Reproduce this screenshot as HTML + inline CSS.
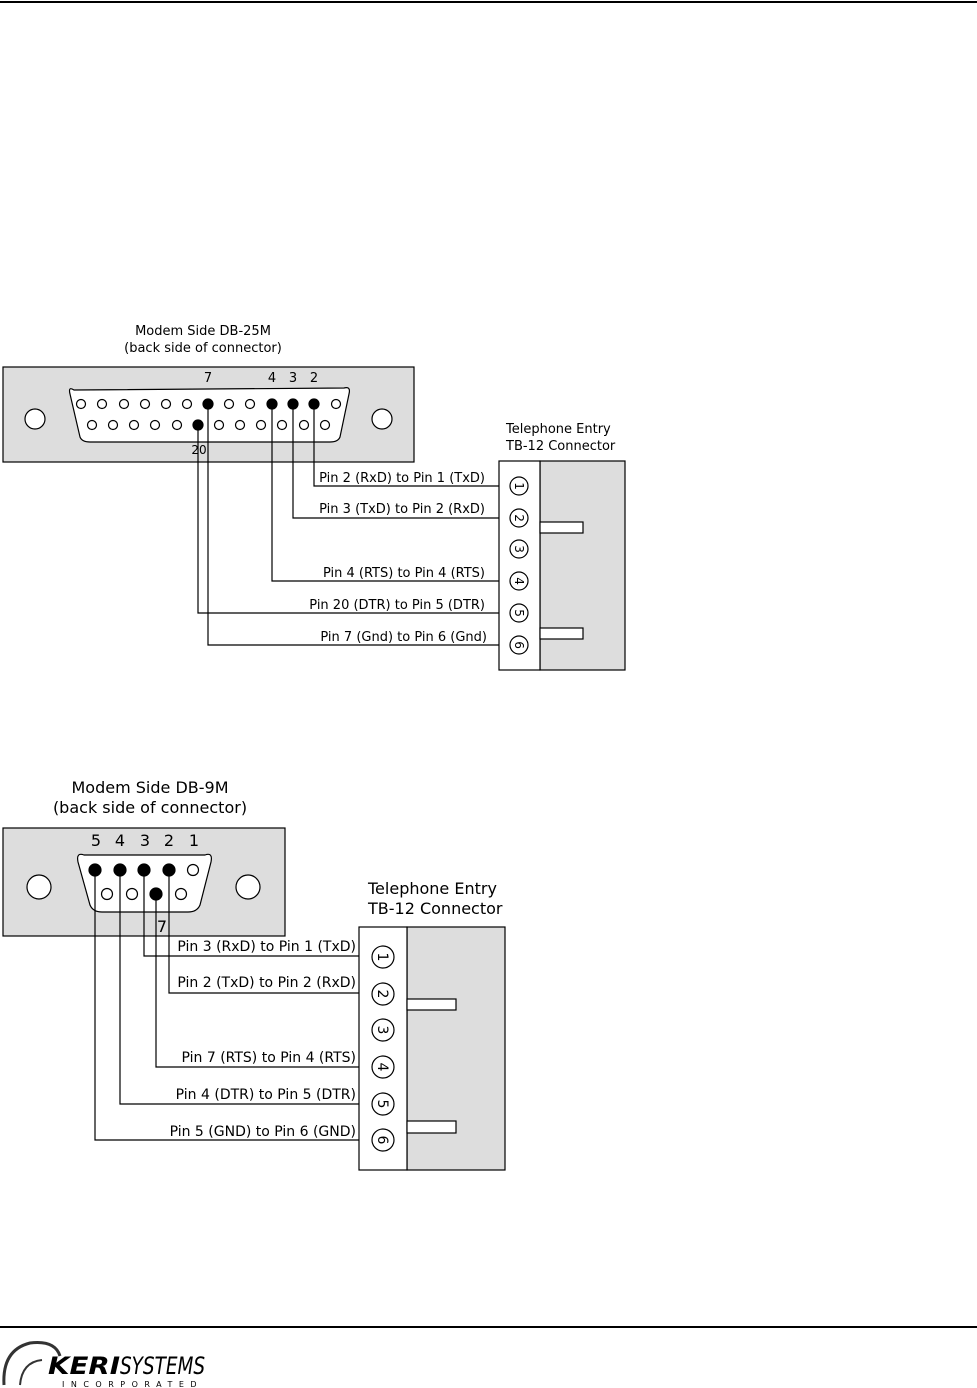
<!DOCTYPE html>
<html><head><meta charset="utf-8"><style>
html,body{margin:0;padding:0;background:#fff;width:977px;height:1388px;overflow:hidden}
svg{display:block}
text{font-family:"DejaVu Sans","Liberation Sans",sans-serif;fill:#000}
</style></head><body>
<svg width="977" height="1388" viewBox="0 0 977 1388" xmlns="http://www.w3.org/2000/svg">
<line x1="0" y1="2" x2="977" y2="2" stroke="#000" stroke-width="2"/>
<!-- DB-25 -->
<text x="203" y="335" font-size="13" text-anchor="middle">Modem Side DB-25M</text>
<text x="203" y="352" font-size="13" text-anchor="middle">(back side of connector)</text>
<rect x="3" y="367" width="411" height="95" fill="#ddd" stroke="#000" stroke-width="1.2"/>
<path d="M74,390 Q68,386 70,394 L80,437 Q82,442 90,442 L330,442 Q338,442 340,437 L349,394 Q351,386 344,388 Z" fill="#fff" stroke="#000" stroke-width="1.2"/>
<circle cx="35" cy="419" r="10" fill="#fff" stroke="#000" stroke-width="1.2"/>
<circle cx="382" cy="419" r="10" fill="#fff" stroke="#000" stroke-width="1.2"/>
<g stroke="#000" stroke-width="1.2" fill="#fff">
<circle cx="81" cy="404" r="4.5"/><circle cx="102" cy="404" r="4.5"/><circle cx="124" cy="404" r="4.5"/><circle cx="145" cy="404" r="4.5"/><circle cx="166" cy="404" r="4.5"/><circle cx="187" cy="404" r="4.5"/><circle cx="208" cy="404" r="5" fill="#000"/><circle cx="229" cy="404" r="4.5"/><circle cx="250" cy="404" r="4.5"/><circle cx="272" cy="404" r="5" fill="#000"/><circle cx="293" cy="404" r="5" fill="#000"/><circle cx="314" cy="404" r="5" fill="#000"/><circle cx="336" cy="404" r="4.5"/>
<circle cx="92" cy="425" r="4.5"/><circle cx="113" cy="425" r="4.5"/><circle cx="134" cy="425" r="4.5"/><circle cx="155" cy="425" r="4.5"/><circle cx="177" cy="425" r="4.5"/><circle cx="198" cy="425" r="5" fill="#000"/><circle cx="219" cy="425" r="4.5"/><circle cx="240" cy="425" r="4.5"/><circle cx="261" cy="425" r="4.5"/><circle cx="282" cy="425" r="4.5"/><circle cx="304" cy="425" r="4.5"/><circle cx="325" cy="425" r="4.5"/>
</g>
<g font-size="13" text-anchor="middle"><text x="208" y="382">7</text><text x="272" y="382">4</text><text x="293" y="382">3</text><text x="314" y="382">2</text><text x="199" y="454" font-size="12">20</text></g>
<g fill="none" stroke="#000" stroke-width="1.2">
<polyline points="314,404 314,486 510,486"/>
<polyline points="293,404 293,518 510,518"/>
<polyline points="272,404 272,581 510,581"/>
<polyline points="198,425 198,613 510,613"/>
<polyline points="208,404 208,645 510,645"/>
</g>
<g font-size="13" text-anchor="end"><text x="485" y="482">Pin 2 (RxD) to Pin 1 (TxD)</text><text x="485" y="513">Pin 3 (TxD) to Pin 2 (RxD)</text><text x="485" y="577">Pin 4 (RTS) to Pin 4 (RTS)</text><text x="485" y="609">Pin 20 (DTR) to Pin 5 (DTR)</text><text x="487" y="641">Pin 7 (Gnd) to Pin 6 (Gnd)</text></g>
<text x="506" y="433" font-size="13">Telephone Entry</text><text x="506" y="450" font-size="13">TB-12 Connector</text>
<rect x="540" y="461" width="85" height="209" fill="#ddd" stroke="#000" stroke-width="1.2"/>
<rect x="499" y="461" width="41" height="209" fill="#fff" stroke="#000" stroke-width="1.2"/>
<rect x="540" y="522" width="43" height="11" fill="#fff" stroke="#000" stroke-width="1.2"/>
<rect x="540" y="628" width="43" height="11" fill="#fff" stroke="#000" stroke-width="1.2"/>
<g font-size="12" text-anchor="middle">
<g transform="translate(519,486)"><circle r="9" fill="#fff" stroke="#000" stroke-width="1.2"/><text transform="rotate(90)" y="4">1</text></g>
<g transform="translate(519,518)"><circle r="9" fill="#fff" stroke="#000" stroke-width="1.2"/><text transform="rotate(90)" y="4">2</text></g>
<g transform="translate(519,549)"><circle r="9" fill="#fff" stroke="#000" stroke-width="1.2"/><text transform="rotate(90)" y="4">3</text></g>
<g transform="translate(519,581)"><circle r="9" fill="#fff" stroke="#000" stroke-width="1.2"/><text transform="rotate(90)" y="4">4</text></g>
<g transform="translate(519,613)"><circle r="9" fill="#fff" stroke="#000" stroke-width="1.2"/><text transform="rotate(90)" y="4">5</text></g>
<g transform="translate(519,645)"><circle r="9" fill="#fff" stroke="#000" stroke-width="1.2"/><text transform="rotate(90)" y="4">6</text></g>
</g>
<!-- DB-9 -->
<text x="150" y="793" font-size="16" text-anchor="middle">Modem Side DB-9M</text>
<text x="150" y="813" font-size="16" text-anchor="middle">(back side of connector)</text>
<rect x="3" y="828" width="282" height="108" fill="#ddd" stroke="#000" stroke-width="1.2"/>
<path d="M84,855 Q76,852 78,862 L90,905 Q93,912 102,912 L188,912 Q197,912 200,905 L211,862 Q213,852 205,855 Z" fill="#fff" stroke="#000" stroke-width="1.2"/>
<circle cx="39" cy="887" r="12" fill="#fff" stroke="#000" stroke-width="1.2"/>
<circle cx="248" cy="887" r="12" fill="#fff" stroke="#000" stroke-width="1.2"/>
<g stroke="#000" stroke-width="1.2" fill="#fff">
<circle cx="95" cy="870" r="6" fill="#000"/><circle cx="120" cy="870" r="6" fill="#000"/><circle cx="144" cy="870" r="6" fill="#000"/><circle cx="169" cy="870" r="6" fill="#000"/><circle cx="193" cy="870" r="5.5"/>
<circle cx="107" cy="894" r="5.5"/><circle cx="132" cy="894" r="5.5"/><circle cx="156" cy="894" r="6" fill="#000"/><circle cx="181" cy="894" r="5.5"/>
</g>
<g font-size="16" text-anchor="middle"><text x="96" y="846">5</text><text x="120" y="846">4</text><text x="145" y="846">3</text><text x="169" y="846">2</text><text x="194" y="846">1</text><text x="162" y="932">7</text></g>
<g fill="none" stroke="#000" stroke-width="1.2">
<polyline points="144,870 144,956 372,956"/>
<polyline points="169,870 169,993 372,993"/>
<polyline points="156,894 156,1067 372,1067"/>
<polyline points="120,870 120,1104 372,1104"/>
<polyline points="95,870 95,1140 372,1140"/>
</g>
<g font-size="14" text-anchor="end"><text x="356" y="951">Pin 3 (RxD) to Pin 1 (TxD)</text><text x="356" y="987">Pin 2 (TxD) to Pin 2 (RxD)</text><text x="356" y="1062">Pin 7 (RTS) to Pin 4 (RTS)</text><text x="356" y="1099">Pin 4 (DTR) to Pin 5 (DTR)</text><text x="356" y="1136">Pin 5 (GND) to Pin 6 (GND)</text></g>
<text x="368" y="894" font-size="16">Telephone Entry</text><text x="368" y="914" font-size="16">TB-12 Connector</text>
<rect x="407" y="927" width="98" height="243" fill="#ddd" stroke="#000" stroke-width="1.2"/>
<rect x="359" y="927" width="48" height="243" fill="#fff" stroke="#000" stroke-width="1.2"/>
<rect x="407" y="999" width="49" height="11" fill="#fff" stroke="#000" stroke-width="1.2"/>
<rect x="407" y="1121" width="49" height="12" fill="#fff" stroke="#000" stroke-width="1.2"/>
<g font-size="14" text-anchor="middle">
<g transform="translate(383,957)"><circle r="11" fill="#fff" stroke="#000" stroke-width="1.2"/><text transform="rotate(90)" y="5">1</text></g>
<g transform="translate(383,994)"><circle r="11" fill="#fff" stroke="#000" stroke-width="1.2"/><text transform="rotate(90)" y="5">2</text></g>
<g transform="translate(383,1030)"><circle r="11" fill="#fff" stroke="#000" stroke-width="1.2"/><text transform="rotate(90)" y="5">3</text></g>
<g transform="translate(383,1067)"><circle r="11" fill="#fff" stroke="#000" stroke-width="1.2"/><text transform="rotate(90)" y="5">4</text></g>
<g transform="translate(383,1104)"><circle r="11" fill="#fff" stroke="#000" stroke-width="1.2"/><text transform="rotate(90)" y="5">5</text></g>
<g transform="translate(383,1140)"><circle r="11" fill="#fff" stroke="#000" stroke-width="1.2"/><text transform="rotate(90)" y="5">6</text></g>
</g>
<!-- footer -->
<line x1="0" y1="1327" x2="977" y2="1327" stroke="#000" stroke-width="2"/>
<path d="M4,1385 Q2,1350 30,1343 Q55,1340 60,1356" fill="none" stroke="#333" stroke-width="3"/>
<path d="M20,1385 Q22,1362 42,1360" fill="none" stroke="#333" stroke-width="2"/>
<text x="48" y="1374" font-size="24" font-style="italic" font-weight="bold" font-family="Liberation Sans,sans-serif" textLength="72" lengthAdjust="spacingAndGlyphs">KERI</text>
<text x="120" y="1374" font-size="24" font-style="italic" font-family="Liberation Sans,sans-serif" textLength="85" lengthAdjust="spacingAndGlyphs">SYSTEMS</text>
<text x="62" y="1387" font-size="8" font-family="Liberation Sans,sans-serif" letter-spacing="6.5">INCORPORATED</text>
</svg>
</body></html>
